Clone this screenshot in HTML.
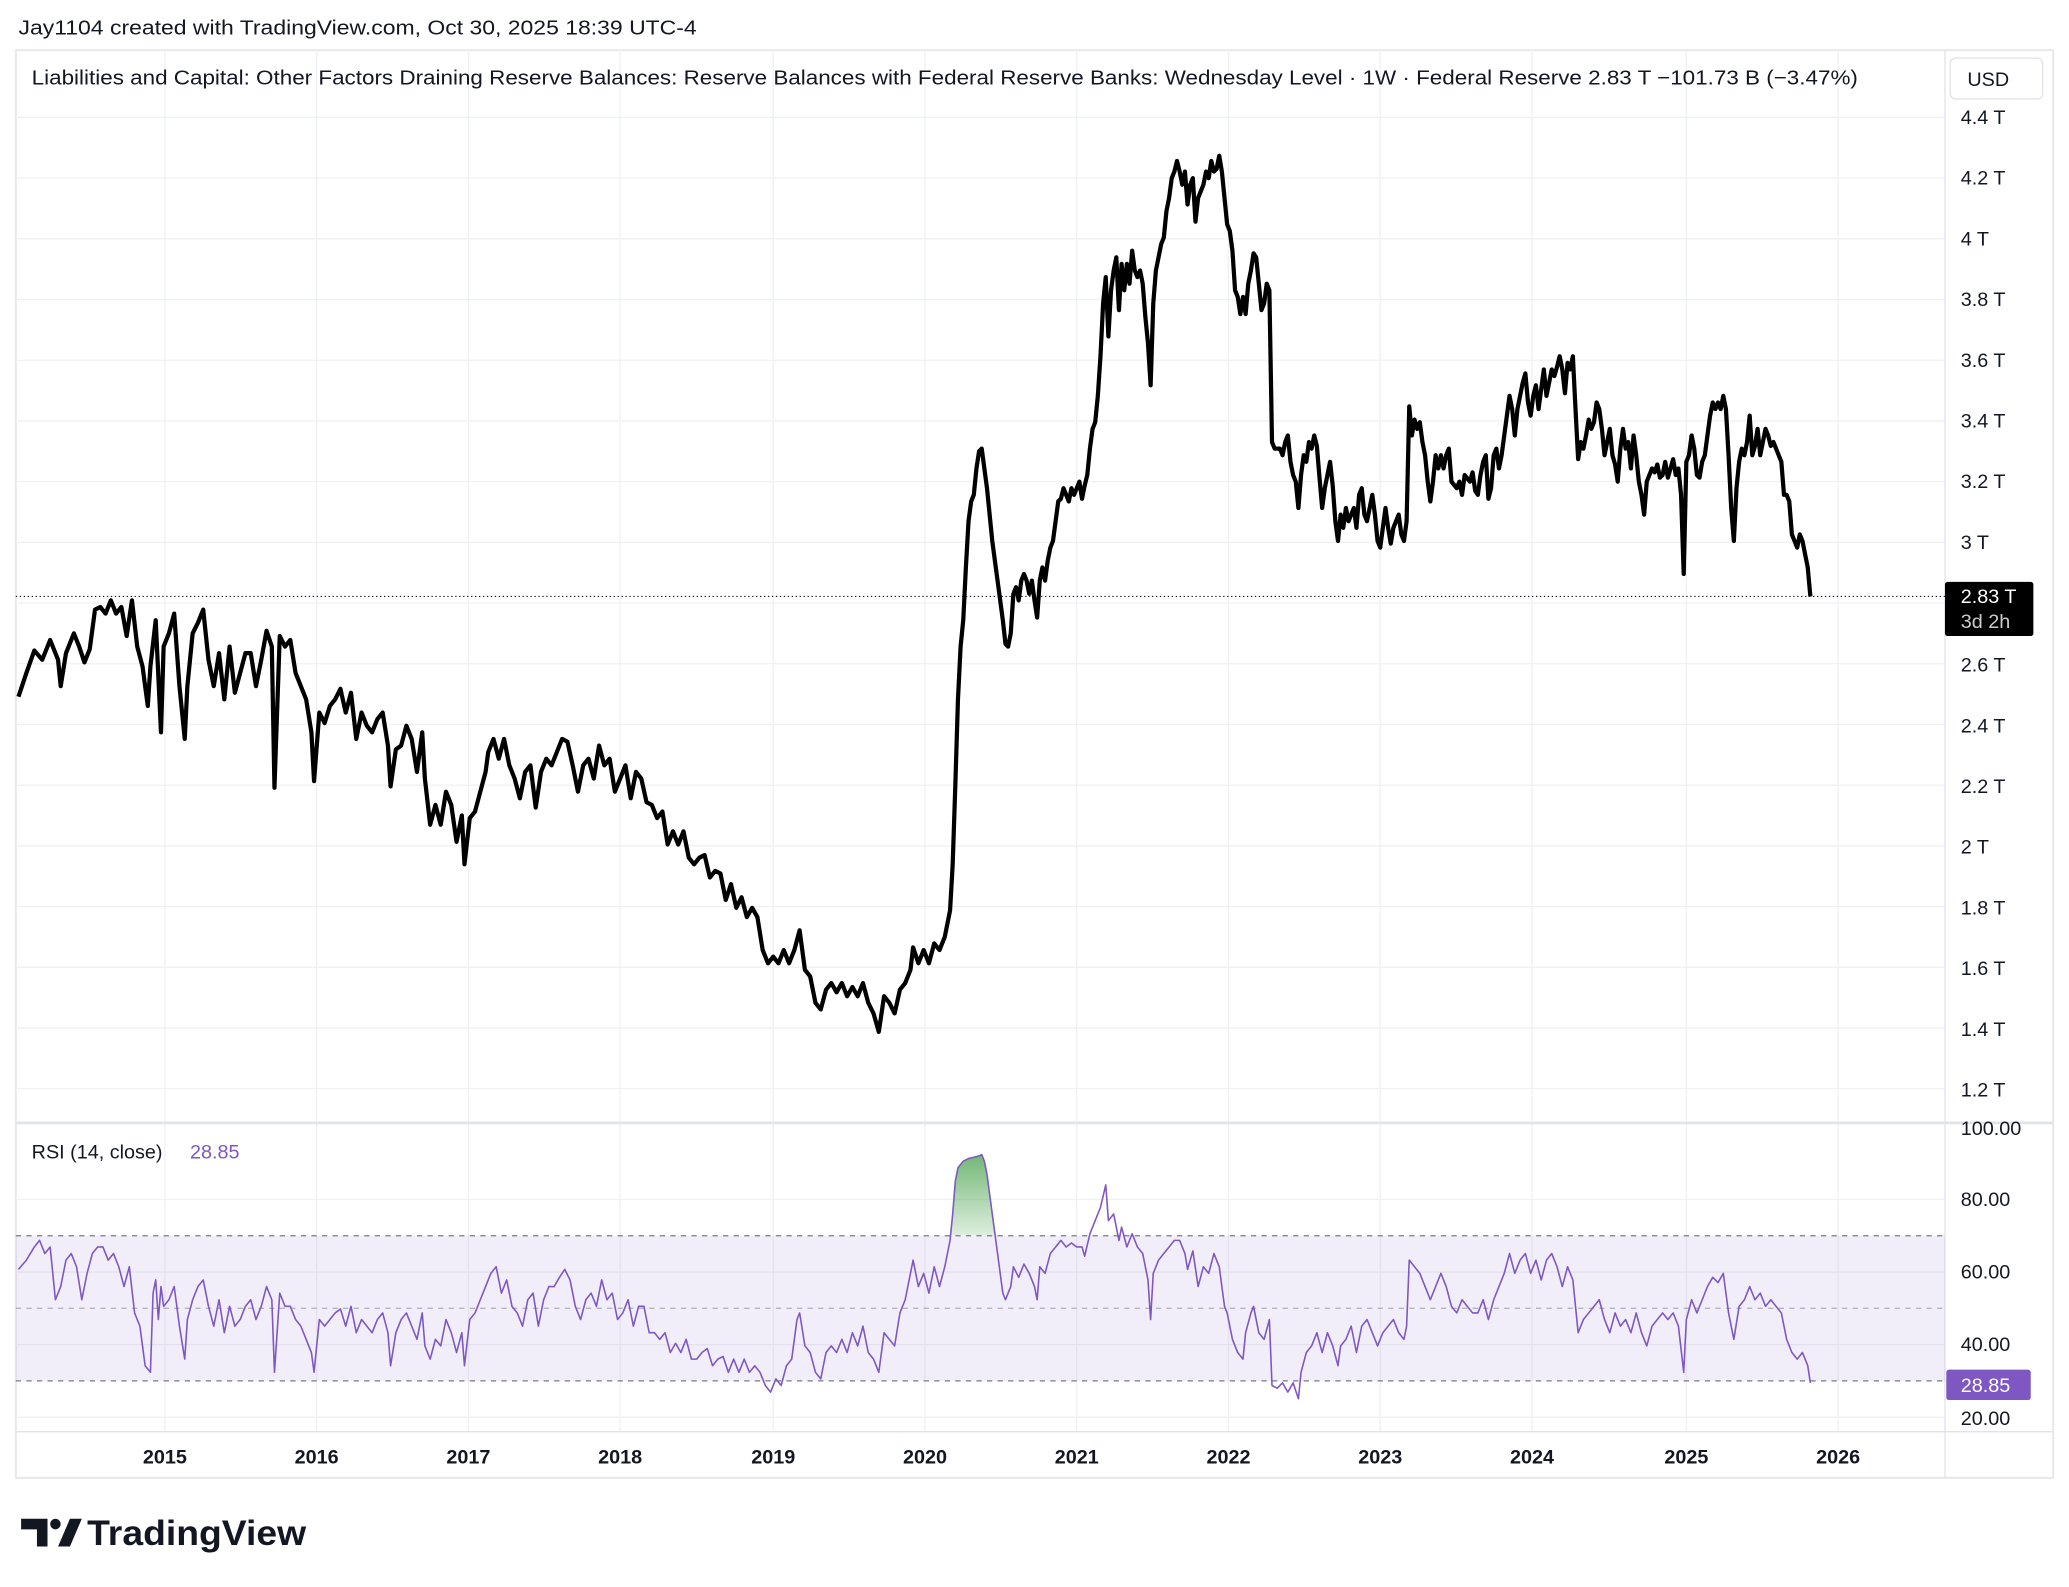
<!DOCTYPE html>
<html><head><meta charset="utf-8"><style>
html,body{margin:0;padding:0;background:#fff;}
svg{display:block;}
text{font-family:"Liberation Sans",sans-serif;}
</style></head><body>
<svg width="2069" height="1587" viewBox="0 0 1568 1202.7" preserveAspectRatio="none" xmlns="http://www.w3.org/2000/svg">
<defs>
<clipPath id="above70"><rect x="0" y="850" width="1474" height="86.5"/></clipPath>
<linearGradient id="gg" x1="0" y1="0" x2="0" y2="1"><stop offset="0" stop-color="#43a047" stop-opacity="0.75"/><stop offset="1" stop-color="#43a047" stop-opacity="0.05"/></linearGradient>
</defs>
<rect width="1568" height="1203" fill="#fff"/>
<text x="14" y="26" font-size="15.5" fill="#131722" textLength="514" lengthAdjust="spacingAndGlyphs">Jay1104 created with TradingView.com, Oct 30, 2025 18:39 UTC-4</text>
<rect x="12" y="38" width="1544" height="1082" fill="none" stroke="#e8e8ea" stroke-width="1.5"/>
<g stroke="#f0f1f3" stroke-width="1">
<line x1="125" y1="38" x2="125" y2="1085"/><line x1="240" y1="38" x2="240" y2="1085"/><line x1="355" y1="38" x2="355" y2="1085"/><line x1="470" y1="38" x2="470" y2="1085"/><line x1="586" y1="38" x2="586" y2="1085"/><line x1="701" y1="38" x2="701" y2="1085"/><line x1="816" y1="38" x2="816" y2="1085"/><line x1="931" y1="38" x2="931" y2="1085"/><line x1="1046" y1="38" x2="1046" y2="1085"/><line x1="1161" y1="38" x2="1161" y2="1085"/><line x1="1278" y1="38" x2="1278" y2="1085"/><line x1="1393" y1="38" x2="1393" y2="1085"/>
<line x1="12" y1="89" x2="1474" y2="89"/><line x1="12" y1="135" x2="1474" y2="135"/><line x1="12" y1="181" x2="1474" y2="181"/><line x1="12" y1="227" x2="1474" y2="227"/><line x1="12" y1="273" x2="1474" y2="273"/><line x1="12" y1="319" x2="1474" y2="319"/><line x1="12" y1="365" x2="1474" y2="365"/><line x1="12" y1="411" x2="1474" y2="411"/><line x1="12" y1="457" x2="1474" y2="457"/><line x1="12" y1="503" x2="1474" y2="503"/><line x1="12" y1="549" x2="1474" y2="549"/><line x1="12" y1="595" x2="1474" y2="595"/><line x1="12" y1="641" x2="1474" y2="641"/><line x1="12" y1="687" x2="1474" y2="687"/><line x1="12" y1="733" x2="1474" y2="733"/><line x1="12" y1="779" x2="1474" y2="779"/><line x1="12" y1="825" x2="1474" y2="825"/>
<line x1="12" y1="909" x2="1474" y2="909"/><line x1="12" y1="964" x2="1474" y2="964"/><line x1="12" y1="1019" x2="1474" y2="1019"/><line x1="12" y1="1074" x2="1474" y2="1074"/>
</g>
<line x1="12" y1="851" x2="1556" y2="851" stroke="#e0e3eb" stroke-width="2"/>
<line x1="12" y1="1085" x2="1556" y2="1085" stroke="#e0e3eb" stroke-width="1"/>
<line x1="1474" y1="38" x2="1474" y2="1120" stroke="#e0e3eb" stroke-width="1"/>
<text x="24" y="64" font-size="15.5" fill="#131722" textLength="1384" lengthAdjust="spacingAndGlyphs">Liabilities and Capital: Other Factors Draining Reserve Balances: Reserve Balances with Federal Reserve Banks: Wednesday Level · 1W · Federal Reserve  2.83 T  −101.73 B (−3.47%)</text>
<rect x="1478" y="44" width="70" height="31" rx="4" fill="#fff" stroke="#e0e3eb"/>
<text x="1491" y="65" font-size="15" fill="#131722">USD</text>
<g font-size="15" fill="#131722">
<text x="1486" y="94">4.4 T</text><text x="1486" y="140">4.2 T</text><text x="1486" y="186">4 T</text><text x="1486" y="232">3.8 T</text><text x="1486" y="278">3.6 T</text><text x="1486" y="324">3.4 T</text><text x="1486" y="370">3.2 T</text><text x="1486" y="416">3 T</text><text x="1486" y="509">2.6 T</text><text x="1486" y="555">2.4 T</text><text x="1486" y="601">2.2 T</text><text x="1486" y="647">2 T</text><text x="1486" y="693">1.8 T</text><text x="1486" y="739">1.6 T</text><text x="1486" y="785">1.4 T</text><text x="1486" y="831">1.2 T</text>
<text x="1486" y="860">100.00</text><text x="1486" y="914">80.00</text><text x="1486" y="969">60.00</text><text x="1486" y="1024">40.00</text><text x="1486" y="1080">20.00</text>
</g>
<g font-size="15" font-weight="bold" fill="#131722" text-anchor="middle">
<text x="125" y="1109">2015</text><text x="240" y="1109">2016</text><text x="355" y="1109">2017</text><text x="470" y="1109">2018</text><text x="586" y="1109">2019</text><text x="701" y="1109">2020</text><text x="816" y="1109">2021</text><text x="931" y="1109">2022</text><text x="1046" y="1109">2023</text><text x="1161" y="1109">2024</text><text x="1278" y="1109">2025</text><text x="1393" y="1109">2026</text>
</g>
<line x1="12" y1="452" x2="1474" y2="452" stroke="#131722" stroke-width="0.8" stroke-dasharray="1 2"/>
<rect x="1474" y="441" width="67" height="41" rx="2" fill="#000"/>
<text x="1486" y="457" font-size="15" fill="#fff">2.83 T</text>
<text x="1486" y="476" font-size="15" fill="#ccc">3d 2h</text>
<polyline fill="none" stroke="#000" stroke-width="3.2" stroke-linejoin="round" points="14,528 20,510 26,493 32,500 38,485 44,500 46,520 50,495 56,480 60,490 64,502 68,492 72,462 76,460 80,465 84,455 88,465 92,460 96,482 100,455 104,490 108,505 112,535 114,505 118,470 122,555 124,490 128,480 132,465 136,520 140,560 142,520 146,480 150,472 154,462 158,500 162,520 166,495 170,530 174,490 178,525 182,510 186,495 190,495 194,520 198,500 202,478 206,490 208,597 212,482 216,490 220,485 224,510 228,520 232,530 236,555 238,592 242,540 246,548 250,535 254,530 258,522 262,540 266,525 270,560 274,540 278,550 282,555 286,545 290,540 294,565 296,596 300,568 304,565 308,550 312,560 316,585 320,555 322,590 326,625 330,610 334,625 338,600 342,610 346,638 350,618 352,655 356,620 360,615 364,600 368,585 370,570 374,560 378,575 382,560 386,580 390,590 394,605 398,585 402,580 406,612 410,585 414,575 418,580 422,570 426,560 430,562 434,580 438,600 442,580 446,575 450,590 454,565 458,580 462,575 466,600 470,590 474,580 478,605 482,585 486,590 490,608 494,610 498,620 502,615 506,640 510,630 514,640 518,630 522,650 526,655 530,650 534,648 538,665 542,660 546,662 550,682 554,670 558,688 562,680 566,695 570,688 574,695 578,720 582,730 586,725 590,730 594,720 598,730 602,720 606,705 610,735 614,740 618,760 622,765 626,750 630,745 634,752 638,745 642,755 646,748 650,755 654,745 658,760 662,768 666,782 670,755 674,760 678,768 682,750 686,745 690,735 692,718 696,730 700,720 704,730 708,715 712,720 716,710 720,690 722,655 724,595 726,530 728,490 730,470 732,430 734,395 736,380 738,375 740,355 742,342 744,340 746,355 748,370 750,390 752,410 754,425 756,440 758,455 760,470 762,488 764,490 766,480 768,450 770,445 772,455 774,440 776,435 778,440 780,450 782,440 784,455 786,468 788,440 790,430 792,440 794,425 796,415 798,410 800,395 802,380 804,378 806,370 808,375 810,380 812,370 814,375 816,370 818,365 820,378 822,368 824,360 826,340 828,325 830,320 832,300 834,270 836,230 838,210 840,255 842,220 844,205 846,195 848,235 850,200 852,220 854,200 856,215 858,190 860,205 862,210 864,205 866,215 868,240 870,260 872,292 874,230 876,205 878,195 880,185 882,180 884,160 886,150 888,135 890,130 892,122 894,130 896,140 898,130 900,155 902,140 904,135 906,168 908,150 910,145 912,140 914,130 916,135 918,122 920,130 922,128 924,118 926,130 928,150 930,170 932,175 934,190 936,220 938,225 940,238 942,225 944,238 946,215 948,205 950,192 952,195 954,215 956,235 958,230 960,215 962,220 964,335 966,340 970,340 972,345 974,335 976,330 978,350 980,360 982,365 984,385 986,360 988,345 990,350 992,335 994,340 996,330 998,338 1000,362 1002,385 1004,370 1006,360 1008,350 1010,368 1012,395 1014,410 1016,390 1018,400 1020,385 1022,395 1024,390 1026,385 1028,400 1030,375 1032,370 1034,390 1036,395 1038,385 1040,375 1042,390 1044,410 1046,415 1048,400 1050,385 1052,400 1054,412 1056,400 1058,395 1060,390 1062,405 1064,410 1066,395 1068,308 1070,330 1072,318 1074,325 1076,320 1078,335 1080,345 1082,365 1084,380 1086,365 1088,345 1090,355 1092,345 1094,355 1096,345 1098,340 1100,365 1104,370 1106,365 1108,375 1110,360 1114,365 1116,358 1118,372 1120,375 1122,360 1124,350 1126,345 1128,378 1130,370 1132,345 1134,340 1136,355 1138,345 1140,330 1142,315 1144,300 1146,310 1148,330 1150,310 1152,300 1154,290 1156,283 1158,305 1160,315 1162,300 1164,292 1166,310 1168,295 1170,280 1172,300 1174,290 1176,280 1178,285 1180,278 1182,270 1184,280 1186,298 1188,275 1190,280 1192,270 1194,310 1196,348 1198,335 1200,340 1202,330 1204,318 1206,325 1208,320 1210,305 1212,310 1214,325 1216,345 1218,335 1220,325 1222,345 1224,352 1226,365 1228,340 1230,325 1232,340 1234,335 1236,355 1238,330 1240,345 1242,365 1244,375 1246,390 1248,365 1250,360 1252,355 1254,358 1256,352 1258,362 1260,360 1262,350 1264,362 1266,355 1268,348 1270,360 1272,355 1274,375 1276,435 1278,350 1280,345 1282,330 1284,340 1286,360 1288,362 1290,350 1292,345 1294,330 1296,315 1298,305 1300,310 1302,305 1304,310 1306,300 1308,310 1310,345 1312,385 1314,410 1316,370 1318,350 1320,340 1322,345 1324,335 1326,315 1328,345 1330,338 1332,325 1334,345 1336,335 1338,325 1340,330 1342,338 1344,335 1346,340 1348,345 1350,350 1352,375 1354,375 1356,380 1358,405 1360,410 1362,415 1364,405 1366,410 1368,420 1370,430 1372,452"/>
<rect x="12" y="936.5" width="1462" height="110" fill="#7e57c2" fill-opacity="0.1"/>
<g stroke="#787b86" stroke-width="1" stroke-dasharray="4 4">
<line x1="12" y1="936.5" x2="1474" y2="936.5"/><line x1="12" y1="991.5" x2="1474" y2="991.5" stroke-opacity="0.5"/><line x1="12" y1="1046.5" x2="1474" y2="1046.5"/>
</g>
<polygon clip-path="url(#above70)" fill="url(#gg)" points="720,940 722,920 724,895 726,885 730,880 734,878 738,877 742,876 744,875 746,880 748,890 750,905 752,920 754,935 756,950 756,936 720,936"/>
<text x="24" y="878" font-size="15" fill="#131722">RSI (14, close)</text>
<text x="144" y="878" font-size="15" fill="#7e57c2">28.85</text>
<polyline fill="none" stroke="#7e57c2" stroke-width="1.2" stroke-linejoin="round" points="14,962 20,955 26,945 30,940 34,950 38,945 42,985 46,975 50,955 54,950 58,960 62,985 66,965 70,950 74,945 78,945 82,955 86,950 90,960 94,975 98,960 102,995 106,1005 110,1035 114,1040 116,980 118,970 120,1000 122,975 124,990 128,985 132,975 136,1005 140,1030 142,1000 146,985 150,975 154,970 158,990 162,1005 166,985 170,1010 174,990 178,1005 182,1000 186,990 190,985 194,1000 198,990 202,975 206,985 208,1040 212,980 216,990 220,990 224,1000 228,1005 232,1015 236,1025 238,1040 242,1000 246,1005 250,1000 254,995 258,992 262,1005 266,990 270,1010 274,1000 278,1005 282,1010 286,1000 290,995 294,1010 296,1035 300,1010 304,1000 308,995 312,1005 316,1015 320,995 322,1020 326,1030 330,1015 334,1020 338,1000 342,1010 346,1025 350,1010 352,1035 356,1000 360,995 364,985 368,975 372,965 376,960 380,980 384,970 388,990 392,995 396,1005 400,985 404,980 408,1005 412,985 416,975 420,975 424,968 428,962 432,970 436,990 440,1000 444,985 448,980 452,990 456,970 460,985 464,980 468,1000 472,995 476,985 480,1005 484,990 488,990 492,1010 496,1010 500,1015 504,1010 508,1025 512,1018 516,1025 520,1015 524,1030 528,1030 532,1025 536,1022 540,1035 544,1030 548,1028 552,1040 556,1030 560,1040 564,1030 568,1040 572,1035 576,1040 580,1050 584,1055 588,1045 592,1050 596,1035 600,1030 604,1000 606,995 610,1020 614,1025 618,1040 622,1045 626,1025 630,1020 634,1025 638,1015 642,1025 646,1010 650,1020 654,1005 658,1025 662,1030 666,1040 670,1010 674,1015 678,1020 682,995 686,985 690,965 692,955 696,975 700,965 704,980 708,960 712,975 716,960 720,940 722,920 724,895 726,885 730,880 734,878 738,877 742,876 744,875 746,880 748,890 750,905 752,920 754,935 756,950 758,965 760,980 762,985 766,975 768,960 772,968 776,958 780,965 784,975 786,985 788,960 792,965 796,950 800,945 804,940 808,945 812,942 816,945 820,945 822,952 826,935 830,925 834,915 838,898 840,925 844,920 848,940 850,930 854,945 858,935 862,945 866,950 870,970 872,1000 874,965 878,955 882,950 886,945 890,940 894,940 898,950 900,962 904,948 908,975 912,960 916,965 920,950 924,960 928,990 930,995 934,1015 938,1025 942,1030 944,1010 948,995 950,990 954,1010 958,1015 962,1000 964,1050 968,1052 972,1048 976,1055 980,1048 984,1060 986,1040 990,1025 994,1020 998,1010 1002,1025 1006,1010 1010,1020 1014,1035 1016,1020 1020,1015 1024,1005 1028,1025 1032,1005 1036,1000 1040,1010 1044,1020 1048,1010 1052,1005 1056,1000 1060,1010 1064,1015 1066,1005 1068,955 1072,960 1076,965 1080,975 1084,985 1088,975 1092,965 1096,975 1100,990 1104,995 1108,985 1112,990 1116,995 1120,995 1124,985 1128,1000 1132,985 1136,975 1140,965 1144,950 1148,965 1152,955 1156,950 1160,965 1164,955 1168,970 1172,955 1176,950 1180,960 1184,975 1188,960 1192,970 1194,990 1196,1010 1200,1000 1204,995 1208,990 1212,985 1216,1000 1220,1010 1224,995 1228,1005 1232,1000 1236,1010 1240,995 1244,1010 1248,1020 1252,1005 1256,1000 1260,995 1264,1000 1268,995 1272,1005 1276,1040 1278,1000 1282,985 1286,995 1290,985 1294,975 1298,968 1302,972 1306,965 1310,995 1314,1015 1318,990 1322,985 1326,975 1330,985 1334,980 1338,990 1342,985 1346,990 1350,995 1354,1015 1358,1025 1362,1030 1366,1025 1370,1035 1372,1048"/>
<rect x="1475" y="1038" width="64" height="23" rx="2" fill="#7e57c2"/>
<text x="1486" y="1055" font-size="15" fill="#fff">28.85</text>
<g fill="#131722">
<path d="M16 1151 h20 v21 h-8 v-13 h-12 z"/>
<circle cx="42" cy="1155" r="4"/>
<path d="M44 1172 l9 -21 h9 l-9 21 z"/>
</g>
<text x="66" y="1171" font-size="27" font-weight="bold" fill="#131722" textLength="166" lengthAdjust="spacingAndGlyphs">TradingView</text>
</svg>
</body></html>
